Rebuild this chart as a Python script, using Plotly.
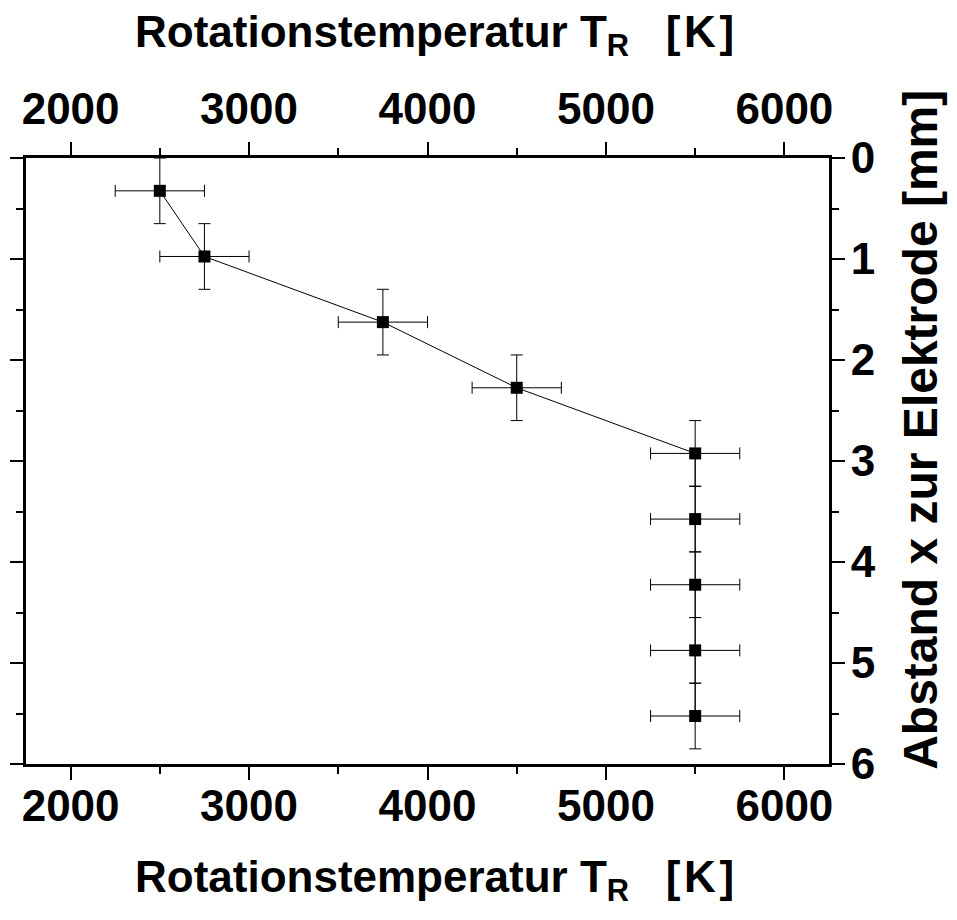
import plotly.graph_objects as go

# Data
temperature_K = [2500, 2750, 3750, 4500, 5500, 5500, 5500, 5500, 5500]
distance_mm = [0.325, 0.975, 1.625, 2.275, 2.925, 3.575, 4.225, 4.875, 5.525]
temp_err = [250, 250, 250, 250, 250, 250, 250, 250, 250]
dist_err = [0.325, 0.325, 0.325, 0.325, 0.325, 0.325, 0.325, 0.325, 0.325]

x_ticks = [2000, 3000, 4000, 5000, 6000]
y_ticks = [0, 1, 2, 3, 4, 5, 6]
x_range = [1750, 6250]
y_range = [6, 0]

x_title = "Rotationstemperatur T<sub>R</sub>&nbsp;&nbsp;&nbsp;[&#8202;K&#8202;]"
y_title = "Abstand x zur Elektrode [mm]"

FONT = "Liberation Sans, Arial, sans-serif"

fig = go.Figure()
fig.add_trace(go.Scatter(
    x=temperature_K, y=distance_mm, mode="lines+markers",
    line=dict(color="black", width=1),
    marker=dict(symbol="square", size=12, color="black"),
    error_x=dict(type="data", array=temp_err, visible=True, color="black", thickness=1, width=6),
    error_y=dict(type="data", array=dist_err, visible=True, color="black", thickness=1, width=6),
    showlegend=False,
))
# invisible trace to anchor secondary axes
fig.add_trace(go.Scatter(x=[x_range[0]], y=[y_range[1]], xaxis="x2", yaxis="y2",
                         mode="markers", marker=dict(opacity=0, size=1), showlegend=False, hoverinfo="skip"))

tickfont = dict(family=FONT, size=44, color="black", weight="bold")
common_x = dict(range=x_range, tickvals=x_ticks, ticks="outside", ticklen=13, tickwidth=2,
                tickcolor="black", showline=True, linewidth=3, linecolor="black",
                showgrid=False, zeroline=False, automargin=False, tickfont=tickfont,
                minor=dict(dtick=500, ticks="outside", ticklen=7, tickwidth=2, tickcolor="black", showgrid=False))
common_y = dict(range=y_range, tickvals=y_ticks, ticks="outside", ticklen=13, tickwidth=2,
                tickcolor="black", showline=True, linewidth=3, linecolor="black",
                showgrid=False, zeroline=False, automargin=False, tickfont=tickfont,
                minor=dict(dtick=0.5, ticks="outside", ticklen=7, tickwidth=2, tickcolor="black", showgrid=False))

titlefont = dict(family=FONT, size=44, color="black", weight="bold")

fig.update_layout(
    width=957, height=920,
    margin=dict(l=18, r=136, t=150, b=164),
    paper_bgcolor="white", plot_bgcolor="white",
    font=dict(family=FONT, color="black"),
    xaxis=dict(**common_x, side="bottom", ticklabelstandoff=-12),
    xaxis2=dict(**common_x, side="top", overlaying="x", anchor="y"),
    yaxis=dict(**common_y, side="left", showticklabels=False),
    yaxis2=dict(**common_y, side="right", overlaying="y", anchor="x", ticklabelstandoff=-3),
    annotations=[
        dict(text=x_title, xref="paper", yref="paper", x=0.509, y=1.203, xanchor="center", yanchor="middle",
             showarrow=False, font=titlefont),
        dict(text=x_title, xref="paper", yref="paper", x=0.509, y=-0.191, xanchor="center", yanchor="middle",
             showarrow=False, font=titlefont),
        dict(text=y_title, xref="paper", yref="paper", x=1.113, y=0.551, xanchor="center", yanchor="middle",
             textangle=-90, showarrow=False, font=dict(family=FONT, size=48, color="black", weight="bold")),
    ],
)

fig.write_html("out.html")
